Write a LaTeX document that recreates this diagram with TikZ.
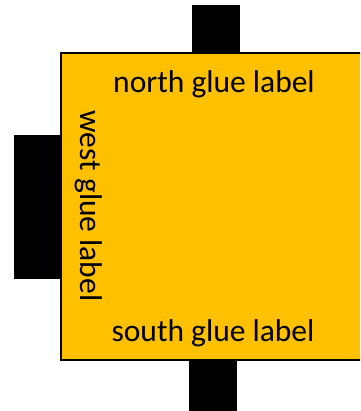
\documentclass[tikz,border=0pt]{standalone}
\usepackage{fontspec}
\setmainfont{Carlito}
\definecolor{tilegold}{HTML}{FFC000}
\begin{document}
\begin{tikzpicture}[x=1pt,y=-1pt,
  tab/.style={fill=black,draw=none},
  tile/.style={fill=tilegold,draw=black,line width=1.3pt},
  gluelabel/.style={font=\fontsize{31.5}{36}\selectfont,inner sep=0pt,anchor=base}]
\useasboundingbox (0,0) rectangle (360,411);
\clip (0,0) rectangle (360,411);
\fill[tab] (192,5) rectangle (240,60);
\fill[tab] (14,135) rectangle (70,279);
\fill[tab] (189,350) rectangle (237,411);
\draw[tile] (61,53) rectangle (420,360);
\node[gluelabel] (north) at (214,92.7) {north glue label};
\node[gluelabel] (south) at (213,341.7) {south glue label};
\node[gluelabel,rotate=-90] (west) at (80,206) {west glue label};
\end{tikzpicture}
\end{document}
